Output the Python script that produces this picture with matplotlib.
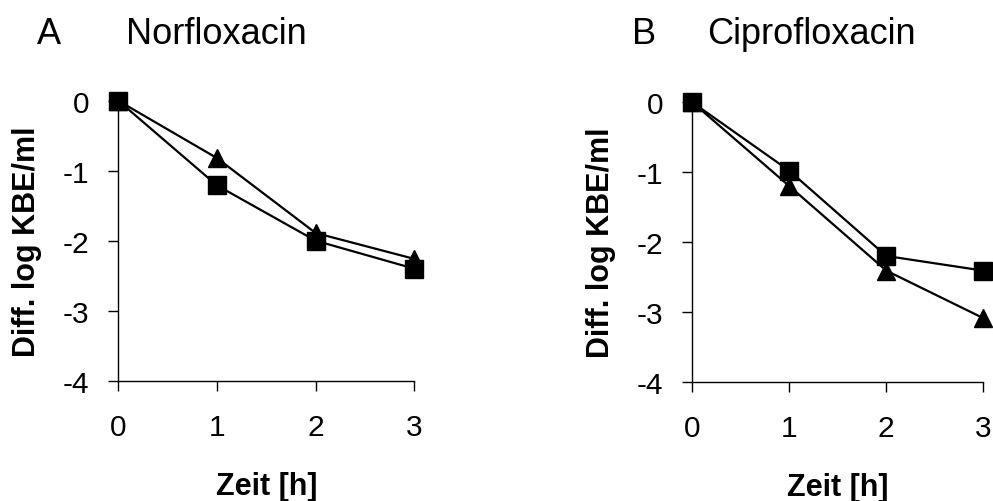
import matplotlib
matplotlib.use("Agg")
import matplotlib.pyplot as plt

plt.rcParams["font.family"] = ["Liberation Sans", "DejaVu Sans"]

# -- Data -----------------------------------------------------------------
zeit = [0, 1, 2, 3]
x_ticks = [0, 1, 2, 3]
y_ticks = [-4, -3, -2, -1, 0]

norflox_square = [0, -1.21, -2.0, -2.4]
norflox_triangle = [0, -0.82, -1.89, -2.26]

ciproflox_square = [0, -0.98, -2.2, -2.41]
ciproflox_triangle = [0, -1.2, -2.41, -3.09]

panels = [
    ("A", "Norfloxacin", norflox_triangle, norflox_square),
    ("B", "Ciprofloxacin", ciproflox_triangle, ciproflox_square),
]

# -- Figure ---------------------------------------------------------------
fig = plt.figure(figsize=(9.93, 5.02), dpi=100)

axes_rects = [
    [118.3 / 993, 1 - 381.7 / 502, 296 / 993, 280 / 502],
    [692.3 / 993, 1 - 382.7 / 502, 291 / 993, 279.4 / 502],
]
letter_x = [37.3 / 993, 632 / 993]
title_x = [126 / 993, 707.3 / 993]

for rect, lx, tx, (letter, name, tri, sq) in zip(axes_rects, letter_x, title_x, panels):
    ax = fig.add_axes(rect)
    ax.plot(zeit, tri, color="black", lw=1.6, marker="^", ms=13.5,
            clip_on=False, zorder=3)
    ax.plot(zeit, sq, color="black", lw=1.6, marker="s", ms=13.5,
            clip_on=False, zorder=4)

    ax.set_xlim(0, 3)
    ax.set_ylim(-4, 0)
    ax.set_xticks(x_ticks)
    ax.set_yticks(y_ticks)
    ax.set_yticklabels([str(v) for v in y_ticks])
    ax.tick_params(axis="both", labelsize=21.5, length=7, width=1.0, color="black")
    ax.tick_params(axis="x", pad=16)
    ax.tick_params(axis="y", pad=14)

    for side in ["top", "right"]:
        ax.spines[side].set_visible(False)
    for side in ["left", "bottom"]:
        ax.spines[side].set_linewidth(1.0)

    ax.set_xlabel("Zeit [h]", fontsize=22, fontweight="bold", labelpad=22)
    ax.set_ylabel("Diff. log KBE/ml", fontsize=22, fontweight="bold", labelpad=15)

    fig.text(lx, 1 - 44.3 / 502, letter, fontsize=26, va="baseline", ha="left")
    fig.text(tx, 1 - 44.3 / 502, name, fontsize=26, va="baseline", ha="left")

fig.savefig("out.png", dpi=100)
